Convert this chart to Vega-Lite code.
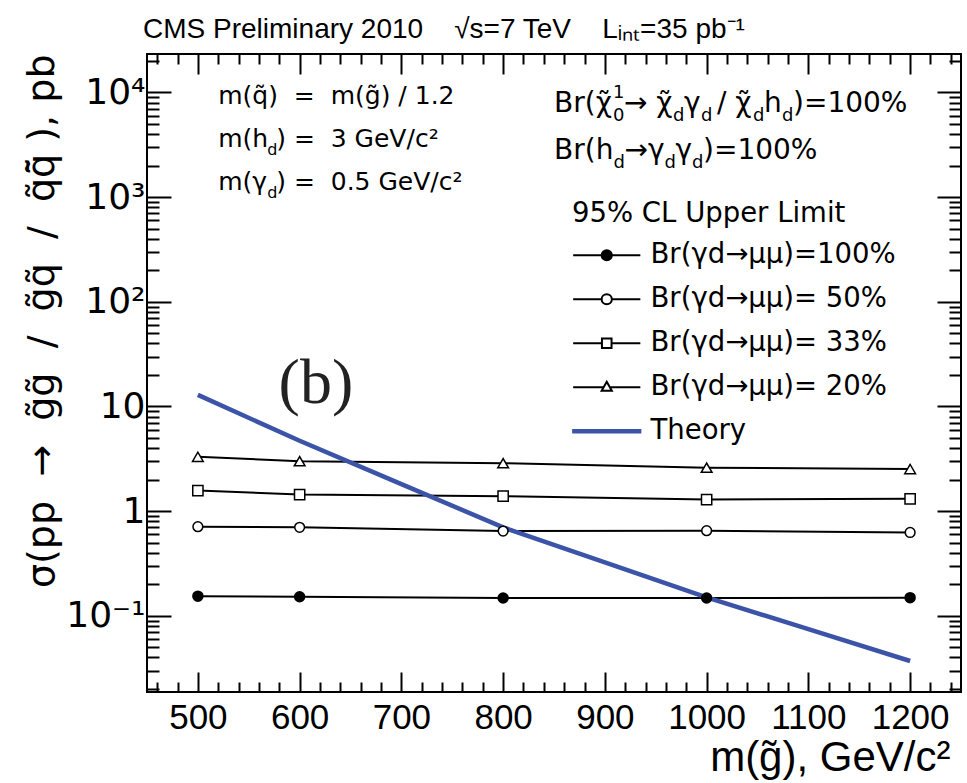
{
  "$schema": "https://vega.github.io/schema/vega-lite/v6.json",
  "width": 814,
  "height": 638,
  "autosize": {"type": "none"},
  "padding": {"left": 147, "top": 54, "right": 6, "bottom": 91},
  "background": "white",
  "config": {
    "font": "DejaVu Sans",
    "view": {"stroke": "black", "strokeWidth": 2},
    "axis": {"domain": false, "grid": false, "tickColor": "black", "labelColor": "black", "titleColor": "black", "tickWidth": 2},
    "text": {"font": "DejaVu Sans", "color": "black", "align": "left", "baseline": "alphabetic"}
  },
  "title": {"text": "CMS Preliminary 2010\u00a0\u00a0\u00a0 √s=7 TeV\u00a0\u00a0\u00a0 Lᵢₙₜ=35 pb⁻¹", "anchor": "start", "frame": "group", "fontSize": 28, "fontWeight": "normal", "font": "Liberation Sans", "color": "black", "offset": 9, "dx": -4},
  "datasets": {
    "limits": [
      {"mass": 500, "xs": 0.154, "series": "Br(γd→μμ)=100%"},
      {"mass": 600, "xs": 0.152, "series": "Br(γd→μμ)=100%"},
      {"mass": 800, "xs": 0.148, "series": "Br(γd→μμ)=100%"},
      {"mass": 1000, "xs": 0.148, "series": "Br(γd→μμ)=100%"},
      {"mass": 1200, "xs": 0.149, "series": "Br(γd→μμ)=100%"},
      {"mass": 500, "xs": 0.71, "series": "Br(γd→μμ)= 50%"},
      {"mass": 600, "xs": 0.70, "series": "Br(γd→μμ)= 50%"},
      {"mass": 800, "xs": 0.645, "series": "Br(γd→μμ)= 50%"},
      {"mass": 1000, "xs": 0.65, "series": "Br(γd→μμ)= 50%"},
      {"mass": 1200, "xs": 0.625, "series": "Br(γd→μμ)= 50%"},
      {"mass": 500, "xs": 1.57, "series": "Br(γd→μμ)= 33%"},
      {"mass": 600, "xs": 1.44, "series": "Br(γd→μμ)= 33%"},
      {"mass": 800, "xs": 1.39, "series": "Br(γd→μμ)= 33%"},
      {"mass": 1000, "xs": 1.29, "series": "Br(γd→μμ)= 33%"},
      {"mass": 1200, "xs": 1.31, "series": "Br(γd→μμ)= 33%"},
      {"mass": 500, "xs": 3.3, "series": "Br(γd→μμ)= 20%"},
      {"mass": 600, "xs": 3.0, "series": "Br(γd→μμ)= 20%"},
      {"mass": 800, "xs": 2.87, "series": "Br(γd→μμ)= 20%"},
      {"mass": 1000, "xs": 2.6, "series": "Br(γd→μμ)= 20%"},
      {"mass": 1200, "xs": 2.52, "series": "Br(γd→μμ)= 20%"}
    ],
    "theory": [
      {"mass": 500, "xs": 12.9, "series": "Theory"},
      {"mass": 600, "xs": 4.7, "series": "Theory"},
      {"mass": 700, "xs": 1.81, "series": "Theory"},
      {"mass": 800, "xs": 0.70, "series": "Theory"},
      {"mass": 900, "xs": 0.324, "series": "Theory"},
      {"mass": 1000, "xs": 0.15, "series": "Theory"},
      {"mass": 1100, "xs": 0.0745, "series": "Theory"},
      {"mass": 1200, "xs": 0.037, "series": "Theory"}
    ]
  },
  "resolve": {"axis": {"x": "independent", "y": "independent"}},
  "layer": [
    {
      "data": {"name": "limits"},
      "mark": {"type": "line", "color": "black", "strokeWidth": 2},
      "encoding": {
        "x": {"field": "mass", "type": "quantitative", "scale": {"domain": [450, 1250], "nice": false, "zero": false},
          "axis": {"orient": "bottom", "values": [500, 600, 700, 800, 900, 1000, 1100, 1200], "format": "d", "tickSize": -20, "labelFont": "Liberation Sans", "labelFontSize": 35, "labelPadding": 28, "labelFlush": false, "labelOverlap": false,
            "title": "m(g̃), GeV/c²", "titleFont": "Liberation Sans", "titleFontSize": 42, "titleFontWeight": "normal", "titleAnchor": "end", "titleAlign": "right", "titleX": 803, "titlePadding": 2}},
        "y": {"field": "xs", "type": "quantitative", "scale": {"type": "log", "domain": [0.0187, 23300], "nice": false},
          "axis": {"orient": "left", "values": [0.1, 1, 10, 100, 1000, 10000], "tickSize": -24, "labelFont": "DejaVu Sans", "labelFontSize": 36, "labelPadding": 26, "labelOverlap": false,
            "labelExpr": "datum.value < 0.5 ? '10⁻¹' : datum.value < 5 ? '1' : datum.value < 50 ? '10' : datum.value < 500 ? '10²' : datum.value < 5000 ? '10³' : '10⁴'",
            "title": "σ(pp\u00a0\u00a0→\u00a0\u00a0g̃g̃\u00a0\u00a0/\u00a0\u00a0g̃q̃\u00a0\u00a0/\u00a0\u00a0q̃q̄̃\u00a0), pb", "titleFont": "DejaVu Sans", "titleFontSize": 38, "titleFontWeight": "normal", "titleAnchor": "end", "titlePadding": 4}},
        "detail": {"field": "series"}
      }
    },
    {
      "data": {"name": "theory"},
      "mark": {"type": "line", "color": "#3b54a8", "strokeWidth": 4.5},
      "encoding": {
        "x": {"field": "mass", "type": "quantitative", "scale": {"domain": [450, 1250], "nice": false, "zero": false},
          "axis": {"orient": "top", "values": [500, 600, 700, 800, 900, 1000, 1100, 1200], "tickSize": -20, "labels": false, "title": null}},
        "y": {"field": "xs", "type": "quantitative", "scale": {"type": "log", "domain": [0.0187, 23300], "nice": false},
          "axis": {"orient": "right", "values": [0.1, 1, 10, 100, 1000, 10000], "tickSize": -24, "labels": false, "title": null}}
      }
    },
    {
      "data": {"name": "limits"},
      "transform": [{"filter": "datum.series == 'Br(γd→μμ)=100%'"}],
      "mark": {"type": "point", "shape": "circle", "size": 90, "filled": true, "fill": "black", "stroke": "black", "opacity": 1},
      "encoding": {
        "x": {"field": "mass", "type": "quantitative", "scale": {"domain": [450, 1250], "nice": false, "zero": false},
          "axis": {"orient": "bottom", "values": [460, 480, 520, 540, 560, 580, 620, 640, 660, 680, 720, 740, 760, 780, 820, 840, 860, 880, 920, 940, 960, 980, 1020, 1040, 1060, 1080, 1120, 1140, 1160, 1180, 1220, 1240], "tickSize": -10, "labels": false, "title": null}},
        "y": {"field": "xs", "type": "quantitative", "scale": {"type": "log", "domain": [0.0187, 23300], "nice": false},
          "axis": {"orient": "left", "values": [0.02, 0.03, 0.04, 0.05, 0.06, 0.07, 0.08, 0.09, 0.2, 0.3, 0.4, 0.5, 0.6, 0.7, 0.8, 0.9, 2, 3, 4, 5, 6, 7, 8, 9, 20, 30, 40, 50, 60, 70, 80, 90, 200, 300, 400, 500, 600, 700, 800, 900, 2000, 3000, 4000, 5000, 6000, 7000, 8000, 9000, 20000], "tickSize": -12, "labels": false, "title": null}}
      }
    },
    {
      "data": {"name": "limits"},
      "transform": [{"filter": "datum.series == 'Br(γd→μμ)= 50%'"}],
      "mark": {"type": "point", "shape": "circle", "size": 95, "filled": true, "fill": "white", "stroke": "black", "strokeWidth": 1.5, "opacity": 1},
      "encoding": {
        "x": {"field": "mass", "type": "quantitative", "scale": {"domain": [450, 1250], "nice": false, "zero": false},
          "axis": {"orient": "top", "values": [460, 480, 520, 540, 560, 580, 620, 640, 660, 680, 720, 740, 760, 780, 820, 840, 860, 880, 920, 940, 960, 980, 1020, 1040, 1060, 1080, 1120, 1140, 1160, 1180, 1220, 1240], "tickSize": -10, "labels": false, "title": null}},
        "y": {"field": "xs", "type": "quantitative", "scale": {"type": "log", "domain": [0.0187, 23300], "nice": false},
          "axis": {"orient": "right", "values": [0.02, 0.03, 0.04, 0.05, 0.06, 0.07, 0.08, 0.09, 0.2, 0.3, 0.4, 0.5, 0.6, 0.7, 0.8, 0.9, 2, 3, 4, 5, 6, 7, 8, 9, 20, 30, 40, 50, 60, 70, 80, 90, 200, 300, 400, 500, 600, 700, 800, 900, 2000, 3000, 4000, 5000, 6000, 7000, 8000, 9000, 20000], "tickSize": -12, "labels": false, "title": null}}
      }
    },
    {
      "data": {"name": "limits"},
      "transform": [{"filter": "datum.series == 'Br(γd→μμ)= 33%'"}],
      "mark": {"type": "point", "shape": "square", "size": 105, "filled": true, "fill": "white", "stroke": "black", "strokeWidth": 1.5, "opacity": 1},
      "encoding": {
        "x": {"field": "mass", "type": "quantitative", "scale": {"domain": [450, 1250], "nice": false, "zero": false}, "axis": null},
        "y": {"field": "xs", "type": "quantitative", "scale": {"type": "log", "domain": [0.0187, 23300], "nice": false}, "axis": null}
      }
    },
    {
      "data": {"name": "limits"},
      "transform": [{"filter": "datum.series == 'Br(γd→μμ)= 20%'"}],
      "mark": {"type": "point", "shape": "triangle-up", "size": 115, "filled": true, "fill": "white", "stroke": "black", "strokeWidth": 1.5, "opacity": 1},
      "encoding": {
        "x": {"field": "mass", "type": "quantitative", "scale": {"domain": [450, 1250], "nice": false, "zero": false}, "axis": null},
        "y": {"field": "xs", "type": "quantitative", "scale": {"type": "log", "domain": [0.0187, 23300], "nice": false}, "axis": null}
      }
    },
    {
      "data": {"name": "limits"},
      "mark": {"type": "point", "filled": true, "opacity": 0},
      "encoding": {
        "x": {"field": "mass", "type": "quantitative", "scale": {"domain": [450, 1250], "nice": false, "zero": false}, "axis": null},
        "y": {"field": "xs", "type": "quantitative", "scale": {"type": "log", "domain": [0.0187, 23300], "nice": false}, "axis": null},
        "shape": {"field": "series", "type": "nominal",
          "scale": {"domain": ["Br(γd→μμ)=100%", "Br(γd→μμ)= 50%", "Br(γd→μμ)= 33%", "Br(γd→μμ)= 20%", "Theory"],
            "range": ["M-5.6,0H5.6M-0.85,0A0.85,0.85 0 1,1 0.85,0A0.85,0.85 0 1,1 -0.85,0Z",
                      "M-5.6,0H-0.85M0.85,0H5.6M-0.85,0A0.85,0.85 0 1,1 0.85,0A0.85,0.85 0 1,1 -0.85,0Z",
                      "M-5.6,0H-0.8M0.8,0H5.6M-0.8,-0.8H0.8V0.8H-0.8Z",
                      "M-5.6,0H-0.55M0.55,0H5.6M0,-0.9L0.85,0.6H-0.85Z",
                      "M-5.6,-0.2H5.6V0.2H-5.6Z"]},
          "legend": {"orient": "none", "legendX": 425, "legendY": 146, "padding": 0, "title": "95% CL Upper Limit", "titleFont": "DejaVu Sans", "titleFontSize": 27.5, "titleFontWeight": "normal", "titleColor": "black", "titlePadding": 14, "titleLimit": 600,
            "labelFont": "DejaVu Sans", "labelFontSize": 27.5, "labelColor": "black", "labelLimit": 600, "symbolSize": 144, "symbolStrokeWidth": 2, "symbolOpacity": 1, "symbolOffset": 21, "labelOffset": 30, "rowPadding": 15}},
        "fill": {"field": "series", "type": "nominal",
          "scale": {"domain": ["Br(γd→μμ)=100%", "Br(γd→μμ)= 50%", "Br(γd→μμ)= 33%", "Br(γd→μμ)= 20%", "Theory"],
            "range": ["black", "white", "white", "white", "#3b54a8"]},
          "legend": {"orient": "none", "legendX": 425, "legendY": 146, "padding": 0, "title": "95% CL Upper Limit", "titleFont": "DejaVu Sans", "titleFontSize": 27.5, "titleFontWeight": "normal", "titleColor": "black", "titlePadding": 14, "titleLimit": 600,
            "labelFont": "DejaVu Sans", "labelFontSize": 27.5, "labelColor": "black", "labelLimit": 600, "symbolSize": 144, "symbolStrokeWidth": 2, "symbolOpacity": 1, "symbolOffset": 21, "labelOffset": 30, "rowPadding": 15}},
        "stroke": {"field": "series", "type": "nominal",
          "scale": {"domain": ["Br(γd→μμ)=100%", "Br(γd→μμ)= 50%", "Br(γd→μμ)= 33%", "Br(γd→μμ)= 20%", "Theory"],
            "range": ["black", "black", "black", "black", "#3b54a8"]},
          "legend": {"orient": "none", "legendX": 425, "legendY": 146, "padding": 0, "title": "95% CL Upper Limit", "titleFont": "DejaVu Sans", "titleFontSize": 27.5, "titleFontWeight": "normal", "titleColor": "black", "titlePadding": 14, "titleLimit": 600,
            "labelFont": "DejaVu Sans", "labelFontSize": 27.5, "labelColor": "black", "labelLimit": 600, "symbolSize": 144, "symbolStrokeWidth": 2, "symbolOpacity": 1, "symbolOffset": 21, "labelOffset": 30, "rowPadding": 15}}
      }
    },
    {
      "data": {"values": [{}]},
      "mark": {"type": "text", "fontSize": 25, "lineHeight": 43},
      "encoding": {
        "x": {"datum": 520, "type": "quantitative", "scale": {"domain": [450, 1250], "nice": false, "zero": false}, "axis": null},
        "y": {"datum": 7760, "type": "quantitative", "scale": {"type": "log", "domain": [0.0187, 23300], "nice": false}, "axis": null},
        "text": {"value": ["m(q̃)\u00a0\u00a0=\u00a0\u00a0m(g̃) / 1.2", "m(h", "m(γ"]}
      }
    },
    {
      "data": {"values": [{}]},
      "mark": {"type": "text", "fontSize": 16, "lineHeight": 43, "dx": 49, "dy": 8},
      "encoding": {
        "x": {"datum": 520, "type": "quantitative", "scale": {"domain": [450, 1250], "nice": false, "zero": false}, "axis": null},
        "y": {"datum": 7760, "type": "quantitative", "scale": {"type": "log", "domain": [0.0187, 23300], "nice": false}, "axis": null},
        "text": {"value": ["", "d", "d"]}
      }
    },
    {
      "data": {"values": [{}]},
      "mark": {"type": "text", "fontSize": 25, "lineHeight": 43, "dx": 58},
      "encoding": {
        "x": {"datum": 520, "type": "quantitative", "scale": {"domain": [450, 1250], "nice": false, "zero": false}, "axis": null},
        "y": {"datum": 7760, "type": "quantitative", "scale": {"type": "log", "domain": [0.0187, 23300], "nice": false}, "axis": null},
        "text": {"value": ["", ") =\u00a0\u00a03 GeV/c²", ") =\u00a0\u00a00.5 GeV/c²"]}
      }
    },
    {
      "data": {"values": [{}]},
      "mark": {"type": "text", "align": "center", "baseline": "middle", "fontSize": 64, "font": "Liberation Serif", "color": "#222222"},
      "encoding": {
        "x": {"datum": 616, "type": "quantitative", "scale": {"domain": [450, 1250], "nice": false, "zero": false}, "axis": null},
        "y": {"datum": 16.4, "type": "quantitative", "scale": {"type": "log", "domain": [0.0187, 23300], "nice": false}, "axis": null},
        "text": {"value": "(b)"}
      }
    },
    {
      "data": {"values": [{}]},
      "mark": {"type": "text", "fontSize": 28, "dx": 0},
      "encoding": {
        "x": {"datum": 850, "type": "quantitative", "scale": {"domain": [450, 1250], "nice": false, "zero": false}, "axis": null},
        "y": {"datum": 6510, "type": "quantitative", "scale": {"type": "log", "domain": [0.0187, 23300], "nice": false}, "axis": null},
        "text": {"value": "Br(χ̃"}
      }
    },
    {
      "data": {"values": [{}]},
      "mark": {"type": "text", "fontSize": 18, "dx": 59, "dy": 9},
      "encoding": {
        "x": {"datum": 850, "type": "quantitative", "scale": {"domain": [450, 1250], "nice": false, "zero": false}, "axis": null},
        "y": {"datum": 6510, "type": "quantitative", "scale": {"type": "log", "domain": [0.0187, 23300], "nice": false}, "axis": null},
        "text": {"value": "0"}
      }
    },
    {
      "data": {"values": [{}]},
      "mark": {"type": "text", "fontSize": 18, "dx": 59, "dy": -14},
      "encoding": {
        "x": {"datum": 850, "type": "quantitative", "scale": {"domain": [450, 1250], "nice": false, "zero": false}, "axis": null},
        "y": {"datum": 6510, "type": "quantitative", "scale": {"type": "log", "domain": [0.0187, 23300], "nice": false}, "axis": null},
        "text": {"value": "1"}
      }
    },
    {
      "data": {"values": [{}]},
      "mark": {"type": "text", "fontSize": 28, "dx": 70},
      "encoding": {
        "x": {"datum": 850, "type": "quantitative", "scale": {"domain": [450, 1250], "nice": false, "zero": false}, "axis": null},
        "y": {"datum": 6510, "type": "quantitative", "scale": {"type": "log", "domain": [0.0187, 23300], "nice": false}, "axis": null},
        "text": {"value": "→\u00a0χ̃"}
      }
    },
    {
      "data": {"values": [{}]},
      "mark": {"type": "text", "fontSize": 18, "dx": 119, "dy": 9},
      "encoding": {
        "x": {"datum": 850, "type": "quantitative", "scale": {"domain": [450, 1250], "nice": false, "zero": false}, "axis": null},
        "y": {"datum": 6510, "type": "quantitative", "scale": {"type": "log", "domain": [0.0187, 23300], "nice": false}, "axis": null},
        "text": {"value": "d"}
      }
    },
    {
      "data": {"values": [{}]},
      "mark": {"type": "text", "fontSize": 28, "dx": 130},
      "encoding": {
        "x": {"datum": 850, "type": "quantitative", "scale": {"domain": [450, 1250], "nice": false, "zero": false}, "axis": null},
        "y": {"datum": 6510, "type": "quantitative", "scale": {"type": "log", "domain": [0.0187, 23300], "nice": false}, "axis": null},
        "text": {"value": "γ"}
      }
    },
    {
      "data": {"values": [{}]},
      "mark": {"type": "text", "fontSize": 18, "dx": 147, "dy": 9},
      "encoding": {
        "x": {"datum": 850, "type": "quantitative", "scale": {"domain": [450, 1250], "nice": false, "zero": false}, "axis": null},
        "y": {"datum": 6510, "type": "quantitative", "scale": {"type": "log", "domain": [0.0187, 23300], "nice": false}, "axis": null},
        "text": {"value": "d"}
      }
    },
    {
      "data": {"values": [{}]},
      "mark": {"type": "text", "fontSize": 28, "dx": 163},
      "encoding": {
        "x": {"datum": 850, "type": "quantitative", "scale": {"domain": [450, 1250], "nice": false, "zero": false}, "axis": null},
        "y": {"datum": 6510, "type": "quantitative", "scale": {"type": "log", "domain": [0.0187, 23300], "nice": false}, "axis": null},
        "text": {"value": "/\u00a0χ̃"}
      }
    },
    {
      "data": {"values": [{}]},
      "mark": {"type": "text", "fontSize": 18, "dx": 199, "dy": 9},
      "encoding": {
        "x": {"datum": 850, "type": "quantitative", "scale": {"domain": [450, 1250], "nice": false, "zero": false}, "axis": null},
        "y": {"datum": 6510, "type": "quantitative", "scale": {"type": "log", "domain": [0.0187, 23300], "nice": false}, "axis": null},
        "text": {"value": "d"}
      }
    },
    {
      "data": {"values": [{}]},
      "mark": {"type": "text", "fontSize": 28, "dx": 210},
      "encoding": {
        "x": {"datum": 850, "type": "quantitative", "scale": {"domain": [450, 1250], "nice": false, "zero": false}, "axis": null},
        "y": {"datum": 6510, "type": "quantitative", "scale": {"type": "log", "domain": [0.0187, 23300], "nice": false}, "axis": null},
        "text": {"value": "h"}
      }
    },
    {
      "data": {"values": [{}]},
      "mark": {"type": "text", "fontSize": 18, "dx": 228, "dy": 9},
      "encoding": {
        "x": {"datum": 850, "type": "quantitative", "scale": {"domain": [450, 1250], "nice": false, "zero": false}, "axis": null},
        "y": {"datum": 6510, "type": "quantitative", "scale": {"type": "log", "domain": [0.0187, 23300], "nice": false}, "axis": null},
        "text": {"value": "d"}
      }
    },
    {
      "data": {"values": [{}]},
      "mark": {"type": "text", "fontSize": 28, "dx": 239},
      "encoding": {
        "x": {"datum": 850, "type": "quantitative", "scale": {"domain": [450, 1250], "nice": false, "zero": false}, "axis": null},
        "y": {"datum": 6510, "type": "quantitative", "scale": {"type": "log", "domain": [0.0187, 23300], "nice": false}, "axis": null},
        "text": {"value": ")=100%"}
      }
    },
    {
      "data": {"values": [{}]},
      "mark": {"type": "text", "fontSize": 28, "dx": 0},
      "encoding": {
        "x": {"datum": 850, "type": "quantitative", "scale": {"domain": [450, 1250], "nice": false, "zero": false}, "axis": null},
        "y": {"datum": 2320, "type": "quantitative", "scale": {"type": "log", "domain": [0.0187, 23300], "nice": false}, "axis": null},
        "text": {"value": "Br(h"}
      }
    },
    {
      "data": {"values": [{}]},
      "mark": {"type": "text", "fontSize": 18, "dx": 59.5, "dy": 9},
      "encoding": {
        "x": {"datum": 850, "type": "quantitative", "scale": {"domain": [450, 1250], "nice": false, "zero": false}, "axis": null},
        "y": {"datum": 2320, "type": "quantitative", "scale": {"type": "log", "domain": [0.0187, 23300], "nice": false}, "axis": null},
        "text": {"value": "d"}
      }
    },
    {
      "data": {"values": [{}]},
      "mark": {"type": "text", "fontSize": 28, "dx": 70.5},
      "encoding": {
        "x": {"datum": 850, "type": "quantitative", "scale": {"domain": [450, 1250], "nice": false, "zero": false}, "axis": null},
        "y": {"datum": 2320, "type": "quantitative", "scale": {"type": "log", "domain": [0.0187, 23300], "nice": false}, "axis": null},
        "text": {"value": "→γ"}
      }
    },
    {
      "data": {"values": [{}]},
      "mark": {"type": "text", "fontSize": 18, "dx": 110.5, "dy": 9},
      "encoding": {
        "x": {"datum": 850, "type": "quantitative", "scale": {"domain": [450, 1250], "nice": false, "zero": false}, "axis": null},
        "y": {"datum": 2320, "type": "quantitative", "scale": {"type": "log", "domain": [0.0187, 23300], "nice": false}, "axis": null},
        "text": {"value": "d"}
      }
    },
    {
      "data": {"values": [{}]},
      "mark": {"type": "text", "fontSize": 28, "dx": 121.5},
      "encoding": {
        "x": {"datum": 850, "type": "quantitative", "scale": {"domain": [450, 1250], "nice": false, "zero": false}, "axis": null},
        "y": {"datum": 2320, "type": "quantitative", "scale": {"type": "log", "domain": [0.0187, 23300], "nice": false}, "axis": null},
        "text": {"value": "γ"}
      }
    },
    {
      "data": {"values": [{}]},
      "mark": {"type": "text", "fontSize": 18, "dx": 138, "dy": 9},
      "encoding": {
        "x": {"datum": 850, "type": "quantitative", "scale": {"domain": [450, 1250], "nice": false, "zero": false}, "axis": null},
        "y": {"datum": 2320, "type": "quantitative", "scale": {"type": "log", "domain": [0.0187, 23300], "nice": false}, "axis": null},
        "text": {"value": "d"}
      }
    },
    {
      "data": {"values": [{}]},
      "mark": {"type": "text", "fontSize": 28, "dx": 149},
      "encoding": {
        "x": {"datum": 850, "type": "quantitative", "scale": {"domain": [450, 1250], "nice": false, "zero": false}, "axis": null},
        "y": {"datum": 2320, "type": "quantitative", "scale": {"type": "log", "domain": [0.0187, 23300], "nice": false}, "axis": null},
        "text": {"value": ")=100%"}
      }
    }
  ]
}
